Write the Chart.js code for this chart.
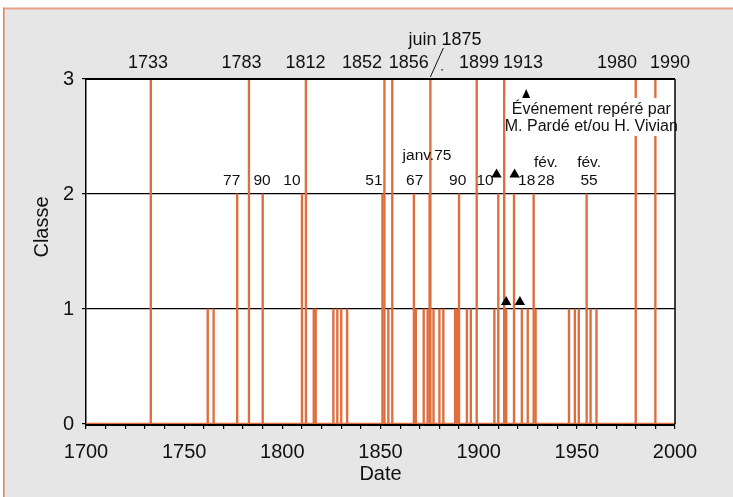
<!DOCTYPE html>
<html>
<head>
<meta charset="utf-8">
<script src="https://cdn.jsdelivr.net/npm/chart.js@4.4.1/dist/chart.umd.min.js"></script>
<style>
  html, body { margin: 0; padding: 0; background: #fff; }
  canvas { display: block; }
</style>
</head>
<body>
<canvas id="crues" width="733" height="497"></canvas>
<script>
// crues par classe (années)
const annees1 = [1762, 1765, 1816, 1817, 1826, 1828, 1830, 1833, 1854, 1868, 1872, 1874, 1877, 1880, 1882,
                 1888, 1889, 1894, 1896, 1908, 1914, 1922, 1925, 1929, 1946, 1949, 1951, 1957, 1960];
const annees2 = [1777, 1790, 1810, 1851, 1867, 1875, 1890, 1910, 1918, 1928, 1955];
const annees3 = [1733, 1783, 1812, 1852, 1856, 1875.4, 1899, 1913, 1980, 1990];

const etiquettes2 = ['77', '90', '10', '51', '67', 'janv.75', '90', '10', '18', 'fév.\n28', 'fév.\n55'];
const etiquettes3 = ['1733', '1783', '1812', '1852', '1856', 'juin 1875', '1899', '1913', '1980', '1990'];

// triangles : événements repérés par M. Pardé et/ou H. Vivian
const reperesX = [1909.1, 1918.3, 1914.0, 1921.0];
const reperesY = [2.17, 2.17, 1.06, 1.06];

const orange = '#e06d3d';
const police = "'Liberation Sans', Arial, sans-serif";

// décalages des étiquettes (px) par rapport au trait
const dx2 = [-5.5, -0.7, -10, -8.5, 0.8, -2.6, -1.4, -13.3, 12.7, 12.3, 2.4];
const dx3 = [-2.8, -7.4, -0.4, -22.4, 16.4, 14.6, 2.3, 18.8, -18.7, 14.6];

function texte(ctx, t, x, y, taille) {
    ctx.font = taille + 'px ' + police;
    ctx.fillStyle = '#111';
    ctx.textAlign = 'center';
    ctx.textBaseline = 'middle';
    ctx.fillText(t, x, y);
}

const habillage = {
    id: 'habillage',
    beforeDraw(chart) {
        const { ctx, width, height, chartArea: a } = chart;
        ctx.save();
        ctx.fillStyle = '#fff';
        ctx.fillRect(0, 0, width, height);
        ctx.fillStyle = '#e6e6e6';
        ctx.fillRect(4, 9, width - 4, height - 9);
        ctx.fillStyle = '#eaa288';
        ctx.fillRect(4, 7.5, width - 4, 2);
        ctx.fillStyle = '#ee7c4e';
        ctx.fillRect(3, 7.5, 1.5, height);
        ctx.fillStyle = '#fff';
        ctx.fillRect(a.left, a.top, a.right - a.left, a.bottom - a.top);
        ctx.restore();
    },
    afterDatasetDraw(chart, args) {
        if (args.index !== 2) return;
        // encadré de légende (cache les traits 1980 et 1990)
        const { ctx, chartArea: a, scales: { x } } = chart;
        ctx.save();
        const g = x.getPixelForValue(1913) + 1.5;
        ctx.fillStyle = '#fff';
        ctx.fillRect(g, a.top + 19, a.right - g - 1, 38);
        const cx = (g + a.right) / 2 + 1;
        texte(ctx, 'Événement repéré par', cx, a.top + 31, 16);
        texte(ctx, 'M. Pardé et/ou H. Vivian', cx, a.top + 48, 16);
        // petit triangle de la légende
        ctx.fillStyle = '#000';
        const tx = x.getPixelForValue(1913) + 22, ty = a.top + 15;
        ctx.beginPath();
        ctx.moveTo(tx, ty - 5);
        ctx.lineTo(tx + 4, ty + 4);
        ctx.lineTo(tx - 4, ty + 4);
        ctx.closePath();
        ctx.fill();
        ctx.restore();
    },
    afterDatasetsDraw(chart) {
        const { ctx, chartArea: a, scales: { x, y } } = chart;
        ctx.save();
        // cadre haut et droit
        ctx.strokeStyle = '#000';
        ctx.lineWidth = 2;
        ctx.beginPath();
        ctx.moveTo(a.left, a.top);
        ctx.lineTo(a.right, a.top);
        ctx.stroke();
        ctx.lineWidth = 1.5;
        ctx.beginPath();
        ctx.moveTo(a.right, a.top);
        ctx.lineTo(a.right, a.bottom);
        ctx.stroke();

        // étiquettes classe 2
        const y2 = y.getPixelForValue(2);
        etiquettes2.forEach((t, i) => {
            const px = x.getPixelForValue(annees2[i]) + dx2[i];
            const lignes = t.split('\n');
            if (t === 'janv.75') {
                texte(ctx, t, px, y2 - 38, 15.5);
                return;
            }
            lignes.forEach((l, j) => {
                texte(ctx, l, px, y2 - 13 - (lignes.length - 1 - j) * 18, 15.5);
            });
        });

        // étiquettes classe 3 (au-dessus du graphe)
        etiquettes3.forEach((t, i) => {
            const bx = x.getPixelForValue(annees3[i]);
            const px = bx + dx3[i];
            if (t === 'juin 1875') {
                texte(ctx, t, px, a.top - 39, 18);
                ctx.strokeStyle = '#111';
                ctx.lineWidth = 1;
                ctx.beginPath();
                ctx.moveTo(bx, a.top - 2);
                ctx.lineTo(bx + 13, a.top - 31);
                ctx.stroke();
                ctx.fillStyle = '#333';
                ctx.fillRect(bx + 11, a.top - 10, 1.5, 1.5);
            } else {
                texte(ctx, t, px, a.top - 16, 18);
            }
        });

        // titre de l'axe Y
        ctx.translate(42, 227);
        ctx.rotate(-Math.PI / 2);
        texte(ctx, 'Classe', 0, 0, 20);
        ctx.restore();
    }
};

const barre = { type: 'bar', backgroundColor: orange, borderWidth: 0, barThickness: 1.7, grouped: false };

new Chart(document.getElementById('crues'), {
    type: 'bar',
    data: {
        datasets: [
            {
                type: 'scatter',
                data: reperesX.map((v, i) => ({ x: v, y: reperesY[i] })),
                pointStyle: 'triangle',
                pointRadius: 6,
                backgroundColor: '#000',
                borderColor: '#000',
                borderWidth: 0
            },
            {
                type: 'line',
                data: [{ x: 1700, y: 0 }, { x: 2000, y: 0 }],
                borderColor: orange,
                borderWidth: 2.5,
                pointRadius: 0
            },
            Object.assign({ data: annees3.map(v => ({ x: v, y: 3 })) }, barre),
            Object.assign({ data: annees2.map(v => ({ x: v, y: 2 })) }, barre),
            Object.assign({ data: annees1.map(v => ({ x: v, y: 1 })) }, barre)
        ]
    },
    options: {
        responsive: false,
        animation: false,
        layout: { padding: { top: 79, right: 58, left: 0, bottom: 0 } },
        plugins: { legend: { display: false }, tooltip: { enabled: false } },
        scales: {
            x: {
                type: 'linear',
                min: 1700,
                max: 2000,
                offset: false,
                afterFit(s) { s.height = 73; },
                grid: { offset: false, drawOnChartArea: false, color: '#000', tickLength: 5, lineWidth: 1.2 },
                border: { color: '#000', width: 3 },
                ticks: {
                    stepSize: 10,
                    autoSkip: false,
                    maxRotation: 0,
                    padding: 11,
                    color: '#111',
                    font: { family: police, size: 20 },
                    callback: v => (v % 50 === 0 ? String(v) : '')
                },
                title: {
                    display: true,
                    text: 'Date',
                    color: '#111',
                    font: { family: police, size: 20 },
                    padding: { top: 0, bottom: 11 }
                }
            },
            y: {
                min: 0,
                max: 3,
                afterFit(s) { s.width = 86; },
                grid: { color: '#000', lineWidth: 1.2, tickLength: 4 },
                border: { color: '#000', width: 1.5 },
                ticks: {
                    stepSize: 1,
                    padding: 8,
                    color: '#111',
                    font: { family: police, size: 20 }
                }
            }
        }
    },
    plugins: [habillage]
});
</script>
</body>
</html>
